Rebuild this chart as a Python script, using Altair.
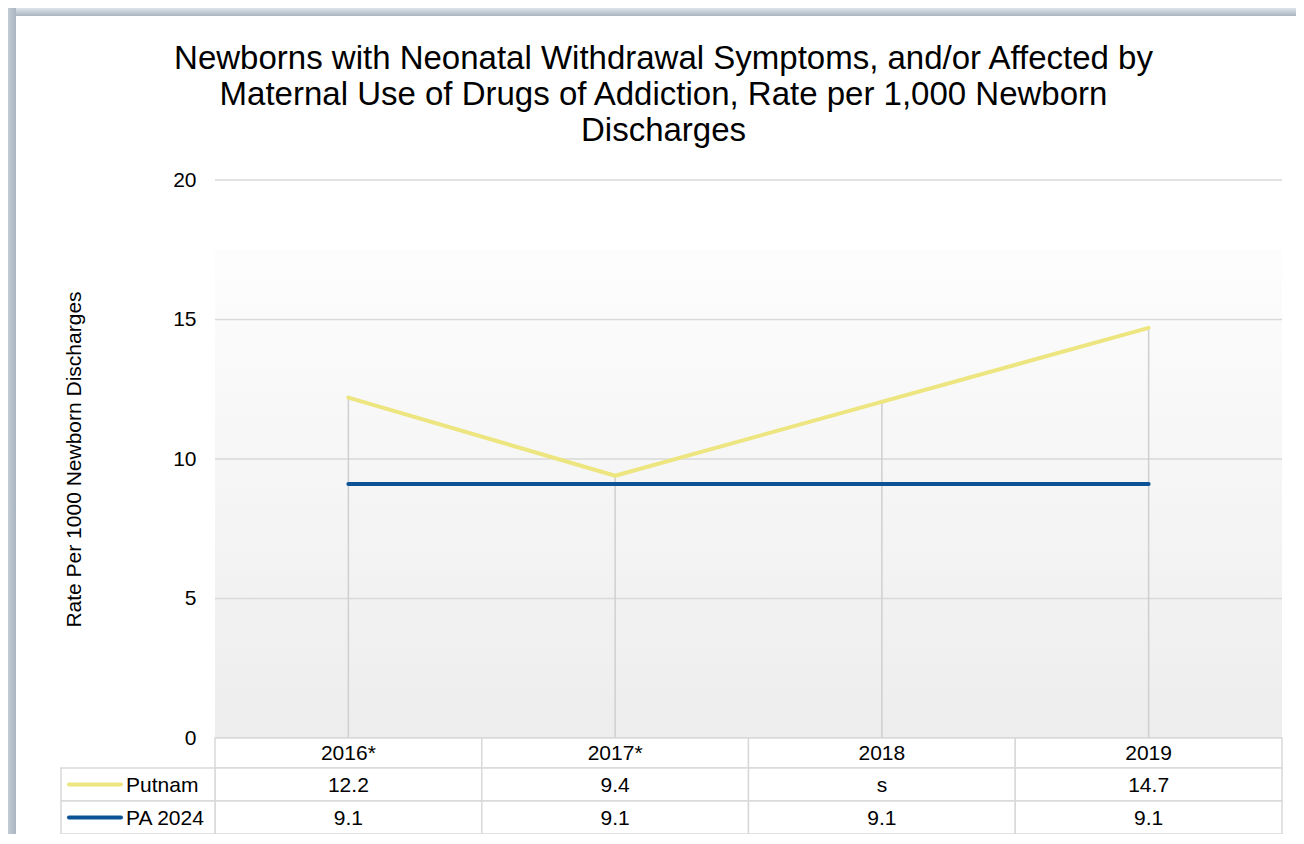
import altair as alt
import pandas as pd

# ---- data ----
years = ["2016*", "2017*", "2018", "2019"]
putnam = [12.2, 9.4, None, 14.7]          # 2018 suppressed ("s")
pa_2024 = [9.1, 9.1, 9.1, 9.1]
series_names = ["Putnam", "PA 2024"]
y_ticks = [0, 5, 10, 15, 20]

title_lines = [
    "Newborns with Neonatal Withdrawal Symptoms, and/or Affected by",
    "Maternal Use of Drugs of Addiction, Rate per 1,000 Newborn",
    "Discharges",
]
y_title = "Rate Per 1000 Newborn Discharges"

# ---- styles ----
YELLOW = "#ede57f"
BLUE = "#0b5394"
GRID = "#d9d9d9"
FRAME = "#a9b5c1"
FONT = "Liberation Sans"
FS = 21
PLOT_W, PLOT_H = 1067, 558
PAD_L, PAD_T, PAD_R, PAD_B = 207, 172, 14, 96
HEADER_H, ROW_H = 30, 33
LEG_X0 = -154
GRAD_TOP = 70

def fmt(v):
    return "s" if v is None else f"{v:.1f}"

rows = []
for i, y in enumerate(years):
    rows.append({"year": y, "order": i, "series": "Putnam", "value": putnam[i], "label": fmt(putnam[i])})
    rows.append({"year": y, "order": i, "series": "PA 2024", "value": pa_2024[i], "label": fmt(pa_2024[i])})
df = pd.DataFrame(rows)
years_df = pd.DataFrame({"year": years})
ticks_df = pd.DataFrame({"tick": y_ticks})
one_df = pd.DataFrame({"k": [0]})

xband = alt.X("year:N", sort=years, axis=None,
              scale=alt.Scale(type="band", domain=years, paddingInner=0, paddingOuter=0))
xmid = alt.X("year:N", sort=years, axis=None, bandPosition=0.5,
             scale=alt.Scale(type="band", domain=years, paddingInner=0, paddingOuter=0))
yscale = alt.Scale(domain=[0, 20], nice=False, zero=True)
color = alt.Color("series:N", scale=alt.Scale(domain=series_names, range=[YELLOW, BLUE]), legend=None)

base = alt.Chart(df)

# page frame (top and left edges)
frame_grad_v = {"gradient": "linear", "x1": 0, "y1": 0, "x2": 0, "y2": 1,
                "stops": [{"offset": 0, "color": "#dfe4e9"}, {"offset": 1, "color": FRAME}]}
frame_grad_h = {"gradient": "linear", "x1": 0, "y1": 0, "x2": 1, "y2": 0,
                "stops": [{"offset": 0, "color": "#c3ccd4"}, {"offset": 1, "color": FRAME}]}
frame_top = alt.Chart(one_df).mark_rect(fill=frame_grad_v, strokeWidth=0).encode(
    x=alt.value(-PAD_L), x2=alt.value(PLOT_W + PAD_R), y=alt.value(-PAD_T), y2=alt.value(-PAD_T + 8)
)
frame_left = alt.Chart(one_df).mark_rect(fill=frame_grad_h, strokeWidth=0).encode(
    x=alt.value(-PAD_L), x2=alt.value(-PAD_L + 8), y=alt.value(-PAD_T), y2=alt.value(PLOT_H + PAD_B)
)

# gradient plot background
gradient = {"gradient": "linear", "x1": 0, "y1": 0, "x2": 0, "y2": 1,
            "stops": [{"offset": 0, "color": "#fdfdfd"},
                      {"offset": 1, "color": "#ededed"}]}
bg = alt.Chart(one_df).mark_rect(fill=gradient, strokeWidth=0).encode(
    x=alt.value(0), x2=alt.value(PLOT_W), y=alt.value(GRAD_TOP), y2=alt.value(PLOT_H)
)

# y axis (labels + title) carrier
axis_layer = base.mark_point(opacity=0).encode(
    x=xmid,
    y=alt.Y("value:Q", scale=yscale,
            axis=alt.Axis(values=y_ticks, grid=False,
                          domain=False, ticks=False, labelPadding=19, labelFontSize=FS,
                          labelFont=FONT, labelColor="#000", title=y_title,
                          titleFont=FONT, titleFontSize=FS, titleFontWeight="normal",
                          titleColor="#000", titlePadding=88)),
)

gridlines = alt.Chart(ticks_df).mark_rule(color=GRID, strokeWidth=1.5).encode(
    y=alt.Y("tick:Q", scale=yscale), x=alt.value(0), x2=alt.value(PLOT_W)
)

# drop lines from Putnam line to the axis
drops = base.transform_filter("datum.series == 'Putnam'").transform_window(
    nb="mean(value)", frame=[-1, 1], sort=[alt.SortField("order")]
).transform_calculate(
    top="datum.value != null ? datum.value : datum.nb", zero="0"
).mark_rule(color="#cfcfcf", strokeWidth=1.5).encode(
    x=xmid, y=alt.Y("top:Q", scale=yscale), y2="zero:Q"
)

lines = base.transform_filter("datum.value != null").mark_line(
    strokeWidth=4, strokeCap="round", strokeJoin="round"
).encode(
    x=xmid, y=alt.Y("value:Q", scale=yscale), color=color,
    order="order:Q", detail="series:N"
)

# ---- data table below the plot ----
def cell_rects(y0, y1):
    return alt.Chart(years_df).mark_rect(fill="white", stroke=GRID, strokeWidth=1.5).encode(
        x=xband, y=alt.value(y0), y2=alt.value(y1)
    )

y_h0 = PLOT_H
y_h1 = y_h0 + HEADER_H
y_p1 = y_h1 + ROW_H
y_a1 = y_p1 + ROW_H

header_cells = cell_rects(y_h0, y_h1)
putnam_cells = cell_rects(y_h1, y_p1)
pa_cells = cell_rects(y_p1, y_a1)

header_text = alt.Chart(years_df).mark_text(font=FONT, fontSize=FS, baseline="middle", color="#000").encode(
    x=xmid, y=alt.value((y_h0 + y_h1) / 2 + 1), text="year:N"
)

def row_text(name, yc):
    return base.transform_filter(f"datum.series == '{name}'").mark_text(
        font=FONT, fontSize=FS, baseline="middle", color="#000"
    ).encode(x=xmid, y=alt.value(yc), text="label:N")

putnam_text = row_text("Putnam", (y_h1 + y_p1) / 2 + 1)
pa_text = row_text("PA 2024", (y_p1 + y_a1) / 2 + 1)

leg_df = pd.DataFrame({"series": series_names})

def legend_row(name, y0, y1):
    src = alt.Chart(leg_df).transform_filter(f"datum.series == '{name}'")
    box = src.mark_rect(fill="white", stroke=GRID, strokeWidth=1.5).encode(
        x=alt.value(LEG_X0), x2=alt.value(0), y=alt.value(y0), y2=alt.value(y1)
    )
    sw = src.mark_rule(strokeWidth=4, strokeCap="round").encode(
        x=alt.value(LEG_X0 + 8), x2=alt.value(LEG_X0 + 60),
        y=alt.value((y0 + y1) / 2), color=color
    )
    tx = src.mark_text(font=FONT, fontSize=FS, align="left", baseline="middle", color="#000").encode(
        x=alt.value(LEG_X0 + 65), y=alt.value((y0 + y1) / 2 + 1), text="series:N"
    )
    return box + sw + tx

chart = alt.layer(
    frame_top, frame_left,
    bg, axis_layer, gridlines, drops, lines,
    header_cells, putnam_cells, pa_cells,
    header_text, putnam_text, pa_text,
    legend_row("Putnam", y_h1, y_p1), legend_row("PA 2024", y_p1, y_a1),
).properties(
    width=PLOT_W, height=PLOT_H,
    background="white",
    title=alt.TitleParams(title_lines, anchor="middle", frame="group", font=FONT,
                          fontSize=33, fontWeight="normal", color="#000",
                          lineHeight=36, offset=24, dx=-85, dy=164),
    padding={"left": PAD_L, "top": PAD_T, "right": PAD_R, "bottom": PAD_B},
    autosize=alt.AutoSizeParams(type="none"),
).configure_view(
    strokeWidth=0, stroke="transparent",
)

chart.save("out.html", embed_options={"renderer": "svg", "actions": False})
